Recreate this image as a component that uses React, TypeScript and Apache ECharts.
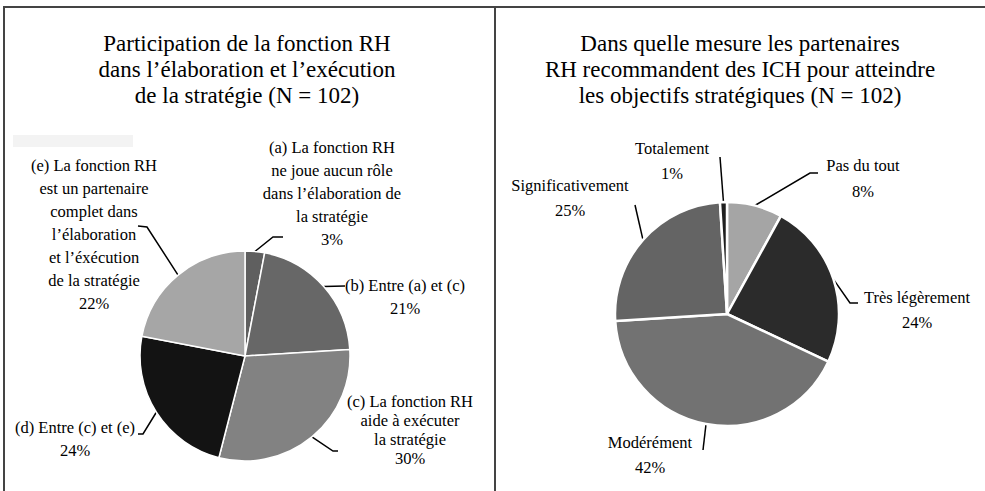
import React, { useEffect, useRef } from "react";
import * as echarts from "echarts";

// ---- Data ----
const leftTitle = "Participation de la fonction RH\ndans l’élaboration et l’exécution\nde la stratégie (N = 102)";
const leftCategories = [
  "(a) La fonction RH\nne joue aucun rôle\ndans l’élaboration de\nla stratégie",
  "(b) Entre (a) et (c)",
  "(c) La fonction RH\naide à exécuter\nla stratégie",
  "(d) Entre (c) et (e)",
  "(e) La fonction RH\nest un partenaire\ncomplet dans\nl’élaboration\net l’éxécution\nde la stratégie",
];
const leftValues = [3, 21, 30, 24, 22];

const rightTitle = "Dans quelle mesure les partenaires\nRH recommandent des ICH pour atteindre\nles objectifs stratégiques (N = 102)";
const rightCategories = ["Pas du tout", "Très légèrement", "Modérément", "Significativement", "Totalement"];
const rightValues = [8, 24, 42, 25, 1];

// ---- Styles / layout ----
const FONT = "Liberation Serif";
const leftColors = ["#5f5f5f", "#676767", "#828282", "#131313", "#a6a6a6"];
const rightColors = ["#a5a5a5", "#2b2b2b", "#727272", "#646464", "#1f1f1f"];
const leftLineHeights = [23, 23, 19, 23, 23];
const rightLineHeights = [26, 25, 25, 25, 25];

// label anchor (center x, top y) and label-line points after the slice edge point
const leftLabelLayout = [
  { x: 332, y: 136, pts: [[273, 237], [283, 237]] },
  { x: 405, y: 274, pts: [[345, 286]] },
  { x: 410, y: 392, pts: [[333, 451], [338, 451]] },
  { x: 75, y: 416, pts: [[143, 434], [138, 434]] },
  { x: 94, y: 154, pts: [[147, 227], [138, 226]] },
];
const rightLabelLayout = [
  { x: 863, y: 152, pts: [[810, 173], [818, 173]] },
  { x: 917, y: 285, pts: [[850, 303], [858, 303]] },
  { x: 650, y: 430, pts: [[703, 450]] },
  { x: 570, y: 173, pts: [[635, 205]] },
  { x: 672, y: 136, pts: [[720, 157]] },
];

function buildData(names: string[], values: number[], colors: string[], lhs: number[]) {
  return names.map((n, i) => ({
    name: n,
    value: values[i],
    itemStyle: { color: colors[i] },
    label: { lineHeight: lhs[i] },
  }));
}

function makeLayout(layout: { x: number; y: number; pts: number[][] }[]) {
  return (params: any) => {
    const l = layout[params.dataIndex];
    const p0 = params.labelLinePoints ? params.labelLinePoints[0] : [l.x, l.y];
    return {
      x: l.x,
      y: l.y,
      align: "center",
      verticalAlign: "top",
      labelLinePoints: [p0, ...l.pts],
    };
  };
}

export default function App() {
  const ref = useRef<HTMLDivElement>(null);
  useEffect(() => {
    if (!ref.current) return;
    const chart = echarts.init(ref.current, null, { renderer: "svg" });
    const labelCommon = {
      show: true,
      position: "outside",
      formatter: "{b}\n{c}%",
      fontFamily: FONT,
      fontSize: 16.5,
      color: "#000",
    };
    const lineCommon = { show: true, lineStyle: { color: "#000", width: 1.5 } };
    chart.setOption({
      animation: false,
      backgroundColor: "#fff",
      graphic: [
        { type: "rect", shape: { x: 13, y: 135, width: 120, height: 12 }, style: { fill: "#f3f3f3" }, silent: true },
        { type: "line", shape: { x1: 3, y1: 7, x2: 985, y2: 7 }, style: { stroke: "#444", lineWidth: 2 } },
        { type: "line", shape: { x1: 4, y1: 7, x2: 4, y2: 491 }, style: { stroke: "#444", lineWidth: 2 } },
        { type: "line", shape: { x1: 495, y1: 7, x2: 495, y2: 491 }, style: { stroke: "#444", lineWidth: 2 } },
        {
          type: "text",
          x: 247,
          y: 30,
          style: { text: leftTitle, fontFamily: FONT, fontSize: 23, lineHeight: 26, fill: "#000", align: "center", verticalAlign: "top" },
        },
        {
          type: "text",
          x: 740,
          y: 30,
          style: { text: rightTitle, fontFamily: FONT, fontSize: 23, lineHeight: 26, fill: "#000", align: "center", verticalAlign: "top" },
        },
      ],
      series: [
        {
          type: "pie",
          center: [245, 356],
          radius: 105,
          startAngle: 90,
          clockwise: true,
          avoidLabelOverlap: false,
          itemStyle: { borderColor: "#fff", borderWidth: 1.5 },
          label: labelCommon,
          labelLine: lineCommon,
          labelLayout: makeLayout(leftLabelLayout),
          emphasis: { disabled: true },
          data: buildData(leftCategories, leftValues, leftColors, leftLineHeights),
        },
        {
          type: "pie",
          center: [727, 314],
          radius: 112,
          startAngle: 90,
          clockwise: true,
          avoidLabelOverlap: false,
          itemStyle: { borderColor: "#fff", borderWidth: 2.5 },
          label: labelCommon,
          labelLine: lineCommon,
          labelLayout: makeLayout(rightLabelLayout),
          emphasis: { disabled: true },
          data: buildData(rightCategories, rightValues, rightColors, rightLineHeights),
        },
      ],
    });
    return () => chart.dispose();
  }, []);
  return <div ref={ref} style={{ position: "fixed", left: 0, top: 0, width: 985, height: 491 }} />;
}
